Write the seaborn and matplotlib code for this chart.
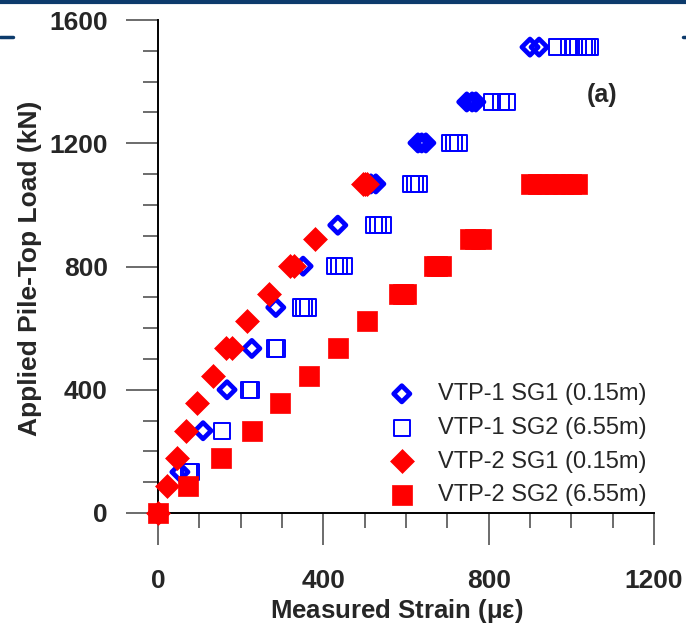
import matplotlib
matplotlib.use("Agg")
import matplotlib.pyplot as plt
from matplotlib.lines import Line2D
from matplotlib.ticker import MultipleLocator
import seaborn as sns
import pandas as pd

# ---------------- data ----------------
# VTP-1 SG1 (0.15 m)  -- load level (kN) : strain readings (micro-strain)
vtp1_sg1_load = [133, 267, 400, 534, 667, 801, 934, 1068, 1068,
                 1201, 1201, 1201, 1334, 1334, 1334, 1512, 1512]
vtp1_sg1_strain = [53, 109, 167, 227, 285, 351, 435, 515, 527,
                   629, 638, 648, 747, 760, 769, 900, 922]

# VTP-1 SG2 (6.55 m)
vtp1_sg2_load = [133, 133, 267, 400, 400, 534, 534,
                 667, 667, 667, 801, 801, 801, 934, 934, 934,
                 1068, 1068, 1068, 1201, 1201, 1201,
                 1334, 1334, 1334,
                 1512, 1512, 1512, 1512, 1512, 1512, 1512]
vtp1_sg2_strain = [75, 80, 155, 220, 226, 283, 288,
                   345, 354, 362, 428, 438, 450, 523, 532, 544,
                   612, 622, 631, 706, 716, 727,
                   808, 830, 843,
                   965, 994, 1006, 1016, 1030, 1038, 1045]

# VTP-2 SG1 (0.15 m)
vtp2_sg1_load = [0, 89, 178, 267, 356, 445, 534, 534, 623, 712,
                 801, 801, 890, 1068, 1068, 1068]
vtp2_sg1_strain = [0, 22, 46, 68, 94, 133, 165, 180, 215, 268,
                   320, 329, 380, 496, 501, 506]

# VTP-2 SG2 (6.55 m)
vtp2_sg2_load = [0, 89, 178, 267, 356, 445, 534, 623,
                 712, 712, 712, 801, 801, 801, 890, 890, 890,
                 1068, 1068, 1068, 1068, 1068, 1068, 1068]
vtp2_sg2_strain = [0, 73, 152, 227, 295, 365, 436, 505,
                   583, 592, 600, 668, 676, 685, 755, 768, 781,
                   902, 920, 940, 960, 980, 1000, 1013]

labels = ["VTP-1 SG1 (0.15m)", "VTP-1 SG2 (6.55m)",
          "VTP-2 SG1 (0.15m)", "VTP-2 SG2 (6.55m)"]
x_ticks = [0, 400, 800, 1200]
y_ticks = [0, 400, 800, 1200, 1600]

# ---------------- style ----------------
sns.set_theme(style="white")
plt.rcParams["font.family"] = ["Liberation Sans", "DejaVu Sans"]

BLUE = "#0000ff"
RED = "#ff0000"

fig = plt.figure(figsize=(6.86, 6.27), dpi=100)
ax = fig.add_axes([158 / 686, 1 - 513 / 627, 496 / 686, 493 / 627])

series = [
    (vtp1_sg1_strain, vtp1_sg1_load, dict(marker="D", s=68, facecolor="none",
                                          edgecolor=BLUE, color=BLUE, linewidth=3.4)),
    (vtp1_sg2_strain, vtp1_sg2_load, dict(marker="s", s=135, facecolor="none",
                                          edgecolor=BLUE, color=BLUE, linewidth=1.4)),
    (vtp2_sg1_strain, vtp2_sg1_load, dict(marker="D", s=148, facecolor=RED,
                                          edgecolor=RED, color=RED, linewidth=0.5)),
    (vtp2_sg2_strain, vtp2_sg2_load, dict(marker="s", s=200, facecolor=RED,
                                          edgecolor=RED, color=RED, linewidth=0.5)),
]
for (xs, ys, kw), lab in zip(series, labels):
    df = pd.DataFrame({"strain": xs, "load": ys})
    sns.scatterplot(data=df, x="strain", y="load", ax=ax, label=lab,
                    clip_on=False, zorder=3, legend=False, **kw)

ax.set_xlim(0, 1200)
ax.set_ylim(0, 1600)
ax.set_xticks(x_ticks)
ax.set_yticks(y_ticks)
ax.xaxis.set_minor_locator(MultipleLocator(100))
ax.yaxis.set_minor_locator(MultipleLocator(100))
ax.set_xticklabels([str(v) for v in x_ticks])
ax.set_yticklabels([str(v) for v in y_ticks])

for side in ["top", "right"]:
    ax.spines[side].set_visible(False)
for side in ["left", "bottom"]:
    ax.spines[side].set_color("black")
    ax.spines[side].set_linewidth(1.4)

ax.tick_params(axis="both", which="major", direction="out", length=23,
               width=1.1, color="#444444", labelsize=19)
ax.tick_params(axis="x", which="major", pad=17)
ax.tick_params(axis="y", which="major", pad=13)
ax.tick_params(axis="both", which="minor", direction="out", length=11,
               width=1.1, color="#444444")
ax.tick_params(axis="both", which="both", bottom=True, left=True)
for t in ax.get_xticklabels() + ax.get_yticklabels():
    t.set_fontweight("bold")

ax.set_xlabel("Measured Strain ($\\mathregular{\\mu\\varepsilon}$)", fontsize=18.5,
              fontweight="bold")
ax.xaxis.set_label_coords(0.482, -0.171)
ax.set_ylabel("Applied Pile-Top Load (kN)", fontsize=19, fontweight="bold")
ax.yaxis.set_label_coords(-0.234, 0.497)

ax.text((602 - 158) / 496, (513 - 95) / 493, "(a)", transform=ax.transAxes,
        fontsize=18, fontweight="bold", ha="center", va="center")

ax.legend(loc="upper left", bbox_to_anchor=((390 - 158) / 496, (513 - 383) / 493),
          frameon=False, borderpad=0, borderaxespad=0, handlelength=1.0,
          handletextpad=1.05, labelspacing=0.5, fontsize=17, scatterpoints=1)

ax.set_facecolor("white")
fig.patch.set_facecolor("white")

# slide-template decorations (navy bar and rules at the top)
NAVY = "#0d3b6c"
fig.add_artist(Line2D([0, 1], [1 - 1.5 / 627, 1 - 1.5 / 627], color=NAVY,
                      linewidth=3, transform=fig.transFigure))
fig.add_artist(Line2D([0, 13 / 686], [1 - 37 / 627, 1 - 37 / 627], color=NAVY,
                      linewidth=2.5, transform=fig.transFigure))
fig.add_artist(Line2D([683 / 686, 1], [1 - 37 / 627, 1 - 37 / 627], color=NAVY,
                      linewidth=2.5, transform=fig.transFigure))

fig.savefig("out.png", dpi=100)
